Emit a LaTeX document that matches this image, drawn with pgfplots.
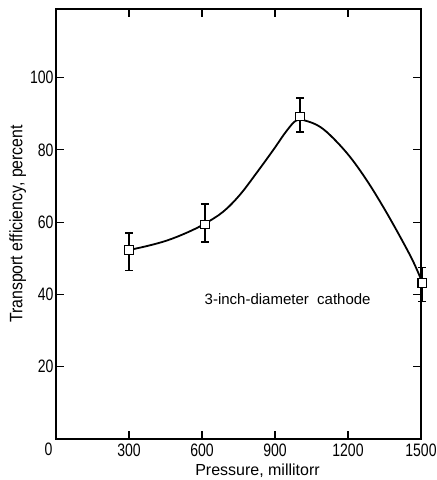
\documentclass[border=0pt]{standalone}
\usepackage{fontspec}
\setmainfont{Liberation Sans}
\newfontfamily\tickfont{Liberation Sans}[FakeStretch=0.78]
\newfontfamily\ylabfont{Liberation Sans}[FakeStretch=0.88]
\usepackage{pgfplots}
\pgfplotsset{compat=1.18}
\usepackage{pgfplotstable}
\pgfplotstableread{
x y ep em
300 52.3 4.7 5.6
612 59.4 5.6 4.9
1003 89.2 5.2 4.2
1505 43.2 4.2 5.2
}\points
\pgfplotstableread{
x y
300 52.3
380 53.5
459 55.0
541 57.2
612 59.6
687 62.9
756 67.6
825 73.7
893 80.0
948 85.3
989 88.2
1030 88.0
1085 86.4
1140 83.2
1208 78.1
1277 71.6
1345 64.2
1414 56.0
1468 49.1
1505 43.4
}\curve
\begin{document}
\begin{tikzpicture}
\path[use as bounding box] (-56pt,-41pt) rectangle (381pt,439pt);
\begin{axis}[
  scale only axis,
  width=365pt, height=430pt,
  xmin=0, xmax=1500, ymin=0, ymax=119,
  axis line style={line width=1.1pt},
  xtick={300,600,900,1200,1500},
  ytick={20,40,60,80,100},
  /pgf/number format/assume math mode=true,
  /pgf/number format/1000 sep={},
  tick align=inside,
  major tick length=8pt,
  tick style={line width=1.1pt, black},
  x tick label style={font=\tickfont\fontsize{18}{18}\selectfont, yshift=-1pt},
  y tick label style={font=\tickfont\fontsize{18}{18}\selectfont, xshift=1pt},
  xtick pos=both, ytick pos=both,
  xticklabel pos=lower, yticklabel pos=left,
  xlabel={Pressure, millitorr},
  xlabel style={font=\fontsize{16}{16}\selectfont, xshift=19pt, yshift=-1pt},
  ylabel={Transport efficiency, percent},
  ylabel style={font=\ylabfont\fontsize{18}{18}\selectfont, yshift=-3pt},
  clip=false,
]
\addplot[black, line width=1.8pt, smooth, tension=0.6] table[x=x,y=y]{\curve};
\addplot[black, only marks, mark=square*, mark size=4.2pt,
  mark options={fill=white, line width=1.1pt},
  error bars/.cd, y dir=both, y explicit,
  error bar style={line width=1.4pt},
  error mark options={rotate=90, mark size=4pt, line width=1.4pt}]
  table[x=x, y=y, y error plus=ep, y error minus=em]{\points};
\node[font=\fontsize{15}{15}\selectfont] at (axis cs:952,38.6) {3-inch-diameter\ \ cathode};
\node[font=\tickfont\fontsize{18}{18}\selectfont, anchor=north east] at (axis cs:0,0) {0};
\end{axis}
\end{tikzpicture}
\end{document}
